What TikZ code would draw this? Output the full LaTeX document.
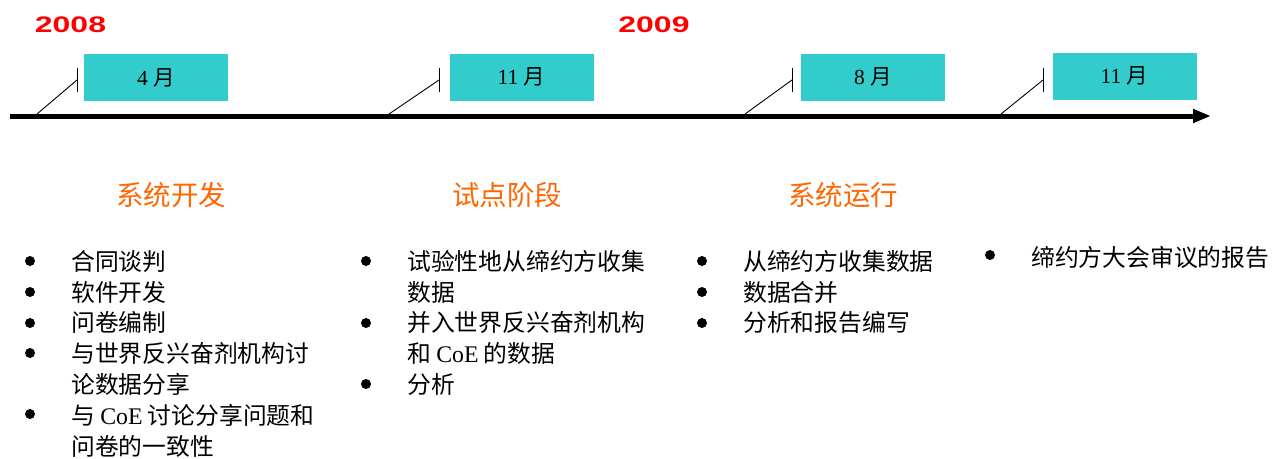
\documentclass[tikz,border=0pt]{standalone}
\usepackage{fontspec}
\setmainfont{Liberation Serif}
\newfontfamily\cjk{Noto Sans CJK SC}
\newfontfamily\yearfont{Liberation Sans}
\usetikzlibrary{arrows.meta}
\definecolor{boxc}{RGB}{51,204,204}
\definecolor{orangec}{RGB}{255,102,0}
\definecolor{yearc}{RGB}{255,0,0}
\begin{document}
\begin{tikzpicture}[x=1pt,y=-1pt,
  month/.style={fill=boxc, minimum width=144pt, minimum height=47pt, inner sep=0pt, font=\fontsize{21.5}{25}\selectfont},
  head/.style={text=orangec, anchor=base, inner sep=0pt, font=\cjk\fontsize{27.5}{31}\selectfont},
  item/.style={anchor=base west, inner sep=0pt, font=\cjk\fontsize{23.8}{28}\selectfont},
  dot/.style={circle, fill=black, inner sep=0pt, minimum size=10pt},
  tickline/.style={line width=0.9pt},
  year/.style={text=yearc, anchor=base, inner sep=0pt, font=\yearfont\bfseries\fontsize{22.5}{26}\selectfont}
]
\useasboundingbox (0,0) rectangle (1272,458);

% years
\node[year] (y2008) at (70.5,32.5) {\scalebox{1.42}[1]{2008}};
\node[year] (y2009) at (654,32.5) {\scalebox{1.42}[1]{2009}};

% timeline
\coordinate (tl0) at (10,116);
\coordinate (tl1) at (1211,116);
\draw[line width=5pt, -{Triangle[length=18pt,width=13pt]}] (tl0) -- (tl1);

% month boxes
\node[month] (m1) at (156,77.5) {4 {\cjk 月}};
\node[month] (m2) at (521.5,77) {11 {\cjk 月}};
\node[month] (m3) at (873,77) {8 {\cjk 月}};
\node[month] (m4) at (1124.5,76) {11 {\cjk 月}};

% ticks
\foreach \i/\a/\b in {1/37/77, 2/389/439, 3/745/792, 4/1001/1043}{
  \coordinate (ta\i) at (\a,114);
  \coordinate (tb\i) at (\b,80);
  \coordinate (tt\i) at (\b,68);
  \coordinate (tu\i) at (\b,92);
  \draw[tickline] (ta\i) -- (tb\i);
  \draw[tickline] (tt\i) -- (tu\i);
}

% headings
\node[head] (h1) at (171,205.5) {系统开发};
\node[head] (h2) at (507,205.5) {试点阶段};
\node[head] (h3) at (843,205.5) {系统运行};

% column 1
\node[dot] (d11) at (30,261) {};
\node[dot] (d12) at (30,292) {};
\node[dot] (d13) at (30,323) {};
\node[dot] (d14) at (30,353) {};
\node[dot] (d15) at (30,414) {};
\node[item] (c11) at (71,270.5) {合同谈判};
\node[item] (c12) at (71,301) {软件开发};
\node[item] (c13) at (71,331.5) {问卷编制};
\node[item] (c14a) at (71,362) {与世界反兴奋剂机构讨};
\node[item] (c14b) at (71,393) {论数据分享};
\node[item] (c15a) at (71,424) {与 {\rmfamily CoE} 讨论分享问题和};
\node[item] (c15b) at (71,455) {问卷的一致性};

% column 2
\node[dot] (d21) at (366,261) {};
\node[dot] (d22) at (366,323) {};
\node[dot] (d23) at (366,384) {};
\node[item] (c21a) at (407,270.5) {试验性地从缔约方收集};
\node[item] (c21b) at (407,301) {数据};
\node[item] (c22a) at (407,331.5) {并入世界反兴奋剂机构};
\node[item] (c22b) at (407,362) {和 {\rmfamily CoE} 的数据};
\node[item] (c23) at (407,393) {分析};

% column 3
\node[dot] (d31) at (702,261) {};
\node[dot] (d32) at (702,292) {};
\node[dot] (d33) at (702,323) {};
\node[item] (c31) at (743,270.5) {从缔约方收集数据};
\node[item] (c32) at (743,301) {数据合并};
\node[item] (c33) at (743,331.5) {分析和报告编写};

% column 4
\node[dot] (d41) at (990,255) {};
\node[item] (c41) at (1031,266) {缔约方大会审议的报告};
\end{tikzpicture}
\end{document}
